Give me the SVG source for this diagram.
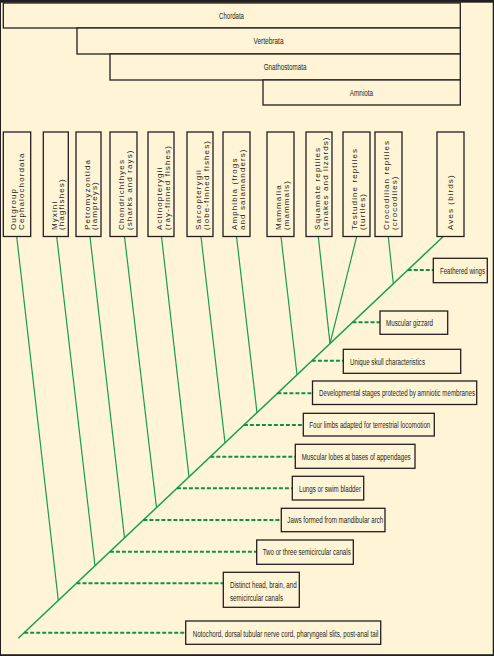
<svg xmlns="http://www.w3.org/2000/svg" width="494" height="656" viewBox="0 0 494 656">
<style>
.bg{fill:#fff5d6}
.box{fill:#fff5d6;stroke:#231f20;stroke-width:1.3}
.t{font-family:"Liberation Sans",Arial,sans-serif;font-size:9.5px;fill:#231f20}
.tm{text-anchor:middle}
.v{font-family:"Liberation Sans",Arial,sans-serif;font-size:8px;fill:#231f20;letter-spacing:1.1px}
.br{stroke:#13a04f;stroke-width:1.2;fill:none}
.main{stroke:#13a04f;stroke-width:1.5;fill:none}
.dash{stroke:#0b9447;stroke-width:2;stroke-dasharray:4 2;fill:none}
</style>
<rect x="0" y="0" width="494" height="656" fill="#231f20"/>
<rect class="bg" x="1" y="2.7" width="491.7" height="651.5"/>

<g id="clades">
  <g id="chordata"><rect class="box" x="3.3" y="3" width="457" height="25"/><text class="t tm" transform="translate(231.5,18.5) scale(0.62,1)" textLength="40.3" lengthAdjust="spacingAndGlyphs">Chordata</text></g>
  <g id="vertebrata"><rect class="box" x="77" y="28" width="383.3" height="26"/><text class="t tm" transform="translate(268.5,44.3) scale(0.62,1)" textLength="48.4" lengthAdjust="spacingAndGlyphs">Vertebrata</text></g>
  <g id="gnathostomata"><rect class="box" x="110" y="54" width="350.3" height="26"/><text class="t tm" transform="translate(285,70.3) scale(0.62,1)" textLength="68.9" lengthAdjust="spacingAndGlyphs">Gnathostomata</text></g>
  <g id="amniota"><rect class="box" x="263" y="80" width="197.3" height="25"/><text class="t tm" transform="translate(361.5,95.8) scale(0.62,1)" textLength="37.6" lengthAdjust="spacingAndGlyphs">Amniota</text></g>
</g>

<g id="connectors">
  <line class="main" x1="18.3" y1="638.3" x2="442.7" y2="237"/>
  <line class="br" x1="16.7" y1="236.5" x2="58.3" y2="600.5"/>
  <line class="br" x1="56.7" y1="236.5" x2="95" y2="565.8"/>
  <line class="br" x1="90" y1="236.5" x2="124.5" y2="537.9"/>
  <line class="br" x1="124.5" y1="236.5" x2="156.5" y2="507.6"/>
  <line class="br" x1="161.5" y1="236.5" x2="189" y2="476.9"/>
  <line class="br" x1="201" y1="236.5" x2="225" y2="442.8"/>
  <line class="br" x1="236.5" y1="236.5" x2="257" y2="412.6"/>
  <line class="br" x1="281" y1="236.5" x2="297" y2="374.8"/>
  <line class="br" x1="318.3" y1="236.5" x2="330" y2="343.6"/>
  <line class="br" x1="356.7" y1="236.5" x2="330" y2="343.6"/>
  <line class="br" x1="388.3" y1="236.5" x2="393.3" y2="283.7"/>
  <line class="dash" x1="24.2" y1="632.7" x2="185.7" y2="632.7"/>
  <line class="dash" x1="76.5" y1="583.3" x2="223.3" y2="583.3"/>
  <line class="dash" x1="109.9" y1="551.7" x2="256.7" y2="551.7"/>
  <line class="dash" x1="143.4" y1="520" x2="281.3" y2="520"/>
  <line class="dash" x1="176.9" y1="488.3" x2="292.3" y2="488.3"/>
  <line class="dash" x1="210.3" y1="456.7" x2="295.3" y2="456.7"/>
  <line class="dash" x1="243.9" y1="425" x2="303.3" y2="425"/>
  <line class="dash" x1="277.4" y1="393.3" x2="312.5" y2="393.3"/>
  <line class="dash" x1="311.9" y1="360.7" x2="343.3" y2="360.7"/>
  <line class="dash" x1="352.5" y1="322.3" x2="380" y2="322.3"/>
  <line class="dash" x1="407.8" y1="270" x2="433.3" y2="270"/>
</g>

<g id="taxa">
  <g id="outgroup"><rect class="box" x="3.3" y="132" width="27.4" height="104.5"/>
    <text class="v" transform="translate(16.3,230) rotate(-90)">Outgroup</text>
    <text class="v" transform="translate(24.3,230) rotate(-90)">Cephalochordata</text></g>
  <g id="myxini"><rect class="box" x="43.3" y="132" width="25" height="104.5"/>
    <text class="v" transform="translate(57.3,230) rotate(-90)">Myxini</text>
    <text class="v" transform="translate(64.3,230) rotate(-90)">(hagfishes)</text></g>
  <g id="petromyzontida"><rect class="box" x="76" y="132" width="25" height="104.5"/>
    <text class="v" transform="translate(90,230) rotate(-90)">Petromyzontida</text>
    <text class="v" transform="translate(97,230) rotate(-90)">(lampreys)</text></g>
  <g id="chondrichthyes"><rect class="box" x="110" y="132" width="27" height="104.5"/>
    <text class="v" transform="translate(124,230) rotate(-90)">Chondrichthyes</text>
    <text class="v" transform="translate(132,230) rotate(-90)">(sharks and rays)</text></g>
  <g id="actinopterygii"><rect class="box" x="148" y="132" width="26" height="104.5"/>
    <text class="v" transform="translate(161.5,230) rotate(-90)">Actinopterygii</text>
    <text class="v" transform="translate(169.5,230) rotate(-90)">(ray-finned fishes)</text></g>
  <g id="sarcopterygii"><rect class="box" x="187" y="132" width="26" height="104.5"/>
    <text class="v" transform="translate(200.5,230) rotate(-90)">Sarcopterygii</text>
    <text class="v" transform="translate(208.5,230) rotate(-90)">(lobe-finned fishes)</text></g>
  <g id="amphibia"><rect class="box" x="223" y="132" width="27" height="104.5"/>
    <text class="v" transform="translate(237,230) rotate(-90)">Amphibia (frogs</text>
    <text class="v" transform="translate(245,230) rotate(-90)">and salamanders)</text></g>
  <g id="mammalia"><rect class="box" x="267" y="132" width="27" height="104.5"/>
    <text class="v" transform="translate(281,230) rotate(-90)">Mammalia</text>
    <text class="v" transform="translate(289,230) rotate(-90)">(mammals)</text></g>
  <g id="squamata"><rect class="box" x="306" y="132" width="26" height="104.5"/>
    <text class="v" transform="translate(319.5,230) rotate(-90)">Squamate reptiles</text>
    <text class="v" transform="translate(327.5,230) rotate(-90)">(snakes and lizards)</text></g>
  <g id="testudines"><rect class="box" x="343" y="132" width="27" height="104.5"/>
    <text class="v" transform="translate(357,230) rotate(-90)">Testudine reptiles</text>
    <text class="v" transform="translate(365,230) rotate(-90)">(turtles)</text></g>
  <g id="crocodilia"><rect class="box" x="375" y="132" width="27" height="104.5"/>
    <text class="v" transform="translate(389,230) rotate(-90)">Crocodilian reptiles</text>
    <text class="v" transform="translate(397,230) rotate(-90)">(crocodiles)</text></g>
  <g id="aves"><rect class="box" x="437" y="132" width="27" height="104.5"/>
    <text class="v" transform="translate(453,230) rotate(-90)">Aves (birds)</text></g>
</g>

<g id="characters">
  <g id="c-feathers"><rect class="box" x="433.3" y="258.3" width="54" height="24.4"/><text class="t" transform="translate(440,273.6) scale(0.62,1)" textLength="72.58" lengthAdjust="spacingAndGlyphs">Feathered wings</text></g>
  <g id="c-gizzard"><rect class="box" x="380" y="311" width="67.7" height="23.3"/><text class="t" transform="translate(386,326) scale(0.62,1)" textLength="75.81" lengthAdjust="spacingAndGlyphs">Muscular gizzard</text></g>
  <g id="c-skull"><rect class="box" x="343.3" y="349.3" width="117.4" height="24"/><text class="t" transform="translate(350,364.6) scale(0.62,1)" textLength="120.97" lengthAdjust="spacingAndGlyphs">Unique skull characteristics</text></g>
  <g id="c-amnion"><rect class="box" x="312.5" y="381" width="164.2" height="23.5"/><text class="t" transform="translate(319,396.2) scale(0.62,1)" textLength="251.61" lengthAdjust="spacingAndGlyphs">Developmental stages protected by amniotic membranes</text></g>
  <g id="c-limbs"><rect class="box" x="303.3" y="413.3" width="131" height="22.7"/><text class="t" transform="translate(309.3,428) scale(0.62,1)" textLength="195.16" lengthAdjust="spacingAndGlyphs">Four limbs adapted for terrestrial locomotion</text></g>
  <g id="c-lobes"><rect class="box" x="295.3" y="444.3" width="119.7" height="24"/><text class="t" transform="translate(301.7,459.6) scale(0.62,1)" textLength="175.81" lengthAdjust="spacingAndGlyphs">Muscular lobes at bases of appendages</text></g>
  <g id="c-lungs"><rect class="box" x="292.3" y="476.3" width="71.4" height="23.7"/><text class="t" transform="translate(299,491.5) scale(0.62,1)" textLength="100" lengthAdjust="spacingAndGlyphs">Lungs or swim bladder</text></g>
  <g id="c-jaws"><rect class="box" x="281.3" y="508.3" width="103.7" height="23.4"/><text class="t" transform="translate(287.3,523.3) scale(0.62,1)" textLength="154.84" lengthAdjust="spacingAndGlyphs">Jaws formed from mandibular arch</text></g>
  <g id="c-canals"><rect class="box" x="256.7" y="540" width="96.6" height="24.3"/><text class="t" transform="translate(262.7,555.4) scale(0.62,1)" textLength="141.94" lengthAdjust="spacingAndGlyphs">Two or three semicircular canals</text></g>
  <g id="c-head"><rect class="box" x="223.3" y="572.3" width="76" height="35"/><text class="t" transform="translate(230,588.3) scale(0.62,1)" textLength="107.58" lengthAdjust="spacingAndGlyphs">Distinct head, brain, and</text><text class="t" transform="translate(230,601) scale(0.62,1)" textLength="85.48" lengthAdjust="spacingAndGlyphs">semicircular canals</text></g>
  <g id="c-notochord"><rect class="box" x="185.7" y="621" width="195" height="23.3"/><text class="t" transform="translate(192.7,636.6) scale(0.62,1)" textLength="299.52" lengthAdjust="spacingAndGlyphs">Notochord, dorsal tubular nerve cord, pharyngeal slits, post-anal tail</text></g>
</g>
</svg>
